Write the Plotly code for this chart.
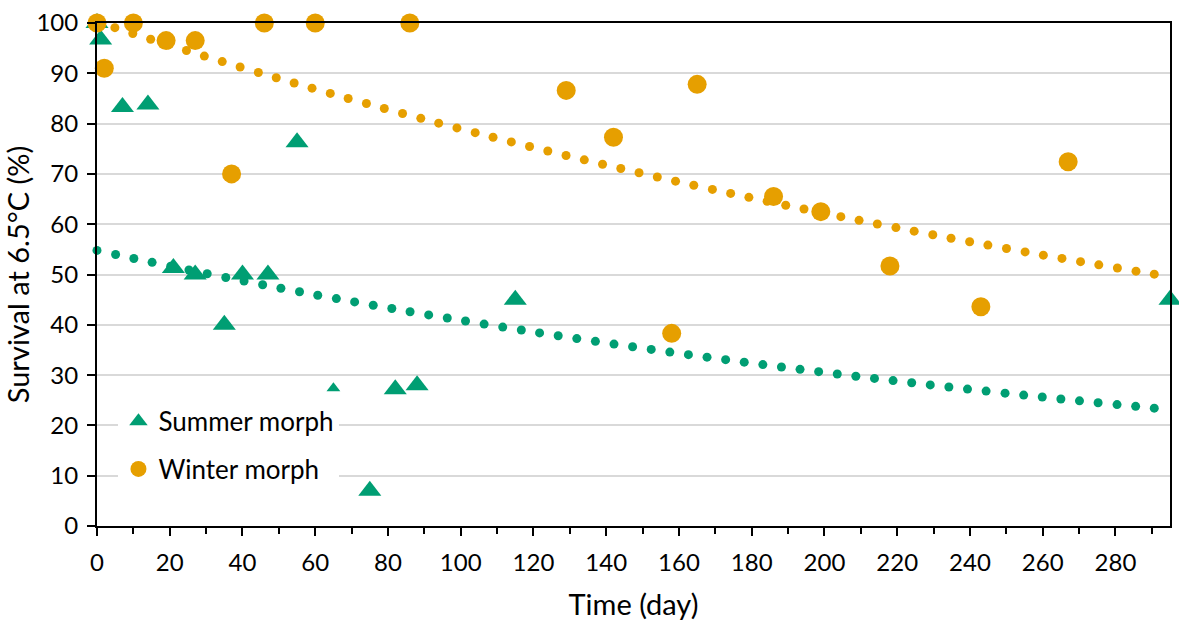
import numpy as np
import plotly.graph_objects as go

# ---- data ----
summer_day = [0, 1, 7, 14, 21, 27, 35, 40, 47, 55, 65, 75, 82, 88, 115, 295]
summer_surv = [100, 96.7, 83.3, 83.8, 51.3, 50, 40, 50, 50, 76.3, 27.4, 7, 27.2, 28, 45, 45]
winter_day = [0, 2, 10, 19, 27, 37, 46, 60, 86, 129, 142, 158, 165, 186, 199, 218, 243, 267]
winter_surv = [100, 91, 100, 96.5, 96.5, 70, 100, 100, 100, 86.6, 77.3, 38.3, 87.8, 65.5,
               62.5, 51.7, 43.6, 72.4]

x_ticks = list(range(0, 281, 20))
y_ticks = list(range(0, 101, 10))

GREEN = "#009E73"
ORANGE = "#E69F00"
FONT = "Lato, 'Open Sans', sans-serif"

X_MAX = 295
# approximate pixel scale of the plot area (for dot spacing of the trendline)
PX_X = 1075 / X_MAX
PX_Y = 507 / 100
DOT_GAP = 18.8


def exp_trend_dots(x, y):
    """Exponential trendline (least squares on log y), rendered as round dots."""
    b, ln_a = np.polyfit(np.asarray(x, float), np.log(np.asarray(y, float)), 1)
    xs = np.linspace(0, X_MAX, 3000)
    ys = np.exp(ln_a) * np.exp(b * xs)
    seg = np.hypot(np.diff(xs) * PX_X, np.diff(ys) * PX_Y)
    arc = np.concatenate([[0], np.cumsum(seg)])
    targets = np.arange(0, arc[-1], DOT_GAP)
    idx = np.searchsorted(arc, targets)
    idx = np.clip(idx, 0, len(xs) - 1)
    return xs[idx], ys[idx]


fig = go.Figure()

sx, sy = exp_trend_dots(summer_day, summer_surv)
wx, wy = exp_trend_dots(winter_day, winter_surv)

fig.add_trace(go.Scatter(x=sx, y=sy, mode="markers", showlegend=False, hoverinfo="skip",
                         marker=dict(color=GREEN, size=9, opacity=1), cliponaxis=False))
fig.add_trace(go.Scatter(x=wx, y=wy, mode="markers", showlegend=False, hoverinfo="skip",
                         marker=dict(color=ORANGE, size=9, opacity=1), cliponaxis=False))

summer_sizes = [12 if d == 65 else 20 for d in summer_day]
fig.add_trace(go.Scatter(x=summer_day, y=summer_surv, mode="markers", name="Summer morph",
                         legendgroup="s",
                         marker=dict(symbol="triangle-up", color=GREEN, size=summer_sizes,
                                     opacity=1, line=dict(width=0)),
                         cliponaxis=False))
fig.add_trace(go.Scatter(x=winter_day, y=winter_surv, mode="markers", name="Winter morph",
                         legendgroup="w",
                         marker=dict(symbol="circle", color=ORANGE, size=19, opacity=1,
                                     line=dict(width=0)),
                         cliponaxis=False))

fig.update_layout(
    width=1179, height=623,
    margin=dict(l=97, r=7, t=20, b=96),
    paper_bgcolor="white", plot_bgcolor="white",
    font=dict(family=FONT, size=24, color="black"),
    showlegend=True,
    legend=dict(x=0.02, y=0.255, xanchor="left", yanchor="top",
                bgcolor="white", font=dict(size=26), tracegroupgap=11,
                itemsizing="trace", borderwidth=0),
    xaxis=dict(range=[0, X_MAX], tickvals=x_ticks, ticks="outside", ticklen=8, tickwidth=2,
               tickcolor="black", showline=True, linecolor="black", linewidth=2, mirror=True,
               showgrid=False, zeroline=False, ticklabelstandoff=6,
               minor=dict(dtick=10, tick0=0, ticks="outside", ticklen=6, tickwidth=2,
                          tickcolor="black", showgrid=False),
               title=dict(text="Time (day)", standoff=20),
               tickfont=dict(size=24)),
    yaxis=dict(range=[0, 100], tickvals=y_ticks, ticks="outside", ticklen=8, tickwidth=2,
               tickcolor="black", showline=True, linecolor="black", linewidth=2, mirror=True,
               showgrid=True, gridcolor="#d9d9d9", gridwidth=2, zeroline=False,
               ticklabelstandoff=4,
               title=dict(text="Survival at 6.5°C (%)", standoff=8),
               tickfont=dict(size=24)),
)

fig.write_html("out.html")
